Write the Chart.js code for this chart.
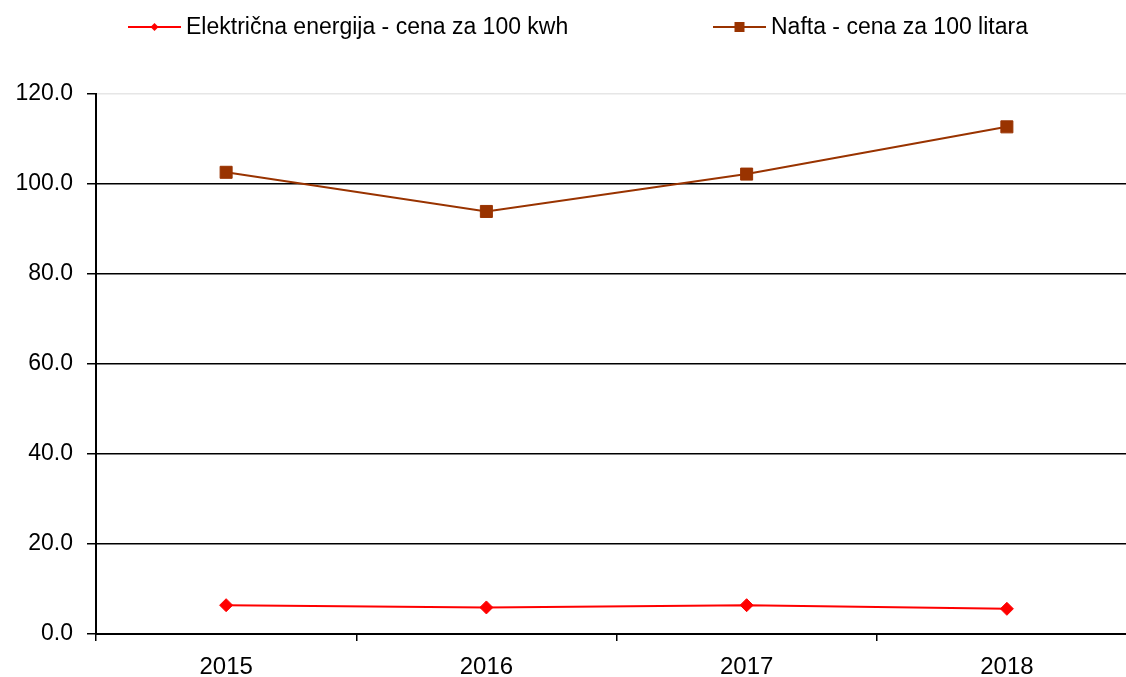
<!DOCTYPE html>
<html lang="sr">
  <head>
    <meta charset="UTF-8" />
    <title>Cene energenata 2015-2018</title>
    <script src="https://cdn.jsdelivr.net/npm/chart.js"></script>
    <style>
      html, body { margin: 0; padding: 0; background: #fff; overflow: hidden; }
      #energyChart { display: block; }
    </style>
  </head>
  <body>
    <!-- a little wider than the window: the original plot is cut at the right edge -->
    <canvas id="energyChart" width="1137" height="677"></canvas>
    <script>
      const years = ["2015", "2016", "2017", "2018"];
      const electricity = [6.4, 5.9, 6.4, 5.6];
      const diesel = [102.6, 93.9, 102.2, 112.7];
      const seriesNames = [
        "Električna energija - cena za 100 kwh",
        "Nafta - cena za 100 litara",
      ];
      const yTicks = [0, 20, 40, 60, 80, 100, 120];

      const FONT = "'Liberation Sans', Arial, sans-serif";

      function drawMarker(ctx, style, r, x, y) {
        ctx.beginPath();
        if (style === "rectRot") {
          ctx.moveTo(x - r, y);
          ctx.lineTo(x, y - r);
          ctx.lineTo(x + r, y);
          ctx.lineTo(x, y + r);
          ctx.closePath();
        } else {
          ctx.rect(x - r, y - r, 2 * r, 2 * r);
        }
        ctx.fill();
      }

      // legend drawn as line + marker + label, spread like the original
      const lineLegend = {
        id: "lineLegend",
        afterDraw(chart, args, opts) {
          const ctx = chart.ctx;
          ctx.save();
          chart.data.datasets.forEach((ds, i) => {
            const x = opts.starts[i];
            const y = opts.y;
            ctx.strokeStyle = ds.borderColor;
            ctx.fillStyle = ds.borderColor;
            ctx.lineWidth = 2;
            ctx.beginPath();
            ctx.moveTo(x, y);
            ctx.lineTo(x + opts.lineLength, y);
            ctx.stroke();
            drawMarker(ctx, ds.pointStyle, opts.markerSize[i], x + opts.lineLength / 2, y);
            ctx.fillStyle = "#000";
            ctx.font = "23px " + FONT;
            ctx.textBaseline = "middle";
            ctx.fillText(ds.label, x + opts.lineLength + 5, y + 1);
          });
          ctx.restore();
        },
      };

      const ctx = document.getElementById("energyChart").getContext("2d");
      new Chart(ctx, {
        type: "line",
        data: {
          labels: years,
          datasets: [
            {
              label: seriesNames[0],
              data: electricity,
              borderColor: "#ff0000",
              backgroundColor: "#ff0000",
              borderWidth: 2,
              pointStyle: "rectRot",
              pointRadius: 6.5,
              pointBorderWidth: 1,
              tension: 0,
            },
            {
              label: seriesNames[1],
              data: diesel,
              borderColor: "#993300",
              backgroundColor: "#993300",
              borderWidth: 2,
              pointStyle: "rect",
              pointRadius: 8.5,
              pointBorderWidth: 1,
              tension: 0,
            },
          ],
        },
        options: {
          responsive: false,
          animation: false,
          layout: {
            autoPadding: false,
            padding: { top: 94, right: 0, bottom: 0, left: 0 },
          },
          plugins: {
            legend: { display: false },
            tooltip: { enabled: false },
            lineLegend: {
              starts: [128, 713],
              y: 27,
              lineLength: 53,
              markerSize: [4, 5],
            },
          },
          scales: {
            x: {
              offset: true,
              afterFit(s) {
                s.height = 43;
                s.paddingLeft = 0;
                s.paddingRight = 0;
              },
              border: { color: "#000", width: 2 },
              grid: {
                offset: true,
                drawOnChartArea: false,
                tickLength: 7,
                color: "#000",
                lineWidth: 1.5,
              },
              ticks: {
                padding: 12,
                color: "#000",
                font: { size: 24, family: FONT },
              },
            },
            y: {
              min: 0,
              max: 120,
              afterFit(s) { s.width = 96; },
              afterBuildTicks(s) { s.ticks = yTicks.map((v) => ({ value: v })); },
              border: { color: "#000", width: 2 },
              grid: {
                color: (c) => (c.tick && c.tick.value === 120 ? "#e6e6e6" : "#000"),
                lineWidth: 1.5,
                tickLength: 9,
                tickColor: "#000",
              },
              ticks: {
                padding: 14,
                color: "#000",
                font: { size: 23, family: FONT },
                callback: (v) => v.toFixed(1),
              },
            },
          },
        },
        plugins: [lineLegend],
      });
    </script>
  </body>
</html>
